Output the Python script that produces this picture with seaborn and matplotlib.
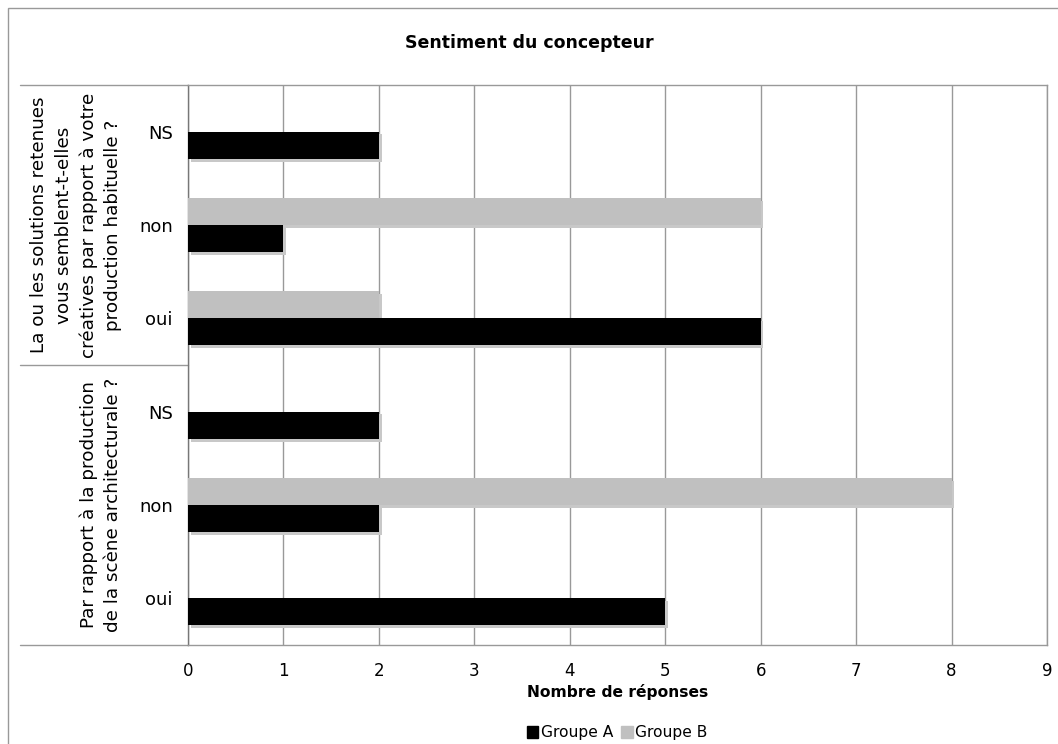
import matplotlib
matplotlib.use("Agg")
import matplotlib.pyplot as plt
import matplotlib.patheffects as pe
from matplotlib.patches import Patch, Rectangle
from matplotlib.lines import Line2D
import pandas as pd
import seaborn as sns

# data
questions = [
    "La ou les solutions retenues\nvous semblent-t-elles\ncréatives par rapport à votre\nproduction habituelle ?",
    "Par rapport à la production\nde la scène architecturale ?",
]
answers = ["NS", "non", "oui"]
groupe_a = [2, 1, 6, 2, 2, 5]
groupe_b = [0, 6, 2, 0, 8, 0]

# one unique id per row (labels repeat in both questions)
cat_ids = [f"q{q}-{a}" for q in range(len(questions)) for a in answers]
tick_labels = answers * len(questions)

df = pd.DataFrame({
    "cat": cat_ids * 2,
    "groupe": ["Groupe A"] * len(cat_ids) + ["Groupe B"] * len(cat_ids),
    "n": groupe_a + groupe_b,
})

sns.set_style("white")
plt.rcParams["font.family"] = ["DejaVu Sans"]
plt.rcParams["text.color"] = "black"
plt.rcParams["axes.labelcolor"] = "black"
plt.rcParams["xtick.labelcolor"] = "black"
plt.rcParams["ytick.labelcolor"] = "black"

fig = plt.figure(figsize=(10.58, 7.44), dpi=100)
ax = fig.add_axes([188 / 1058, 1 - 645 / 744, (1047 - 188) / 1058, (645 - 85) / 744])

colors = {"Groupe A": "#000000", "Groupe B": "#c0c0c0"}
sns.barplot(data=df, y="cat", x="n", hue="groupe", order=cat_ids,
            hue_order=["Groupe B", "Groupe A"], palette=colors,
            width=0.58, saturation=1, errorbar=None, legend=False,
            linewidth=0, orient="h", ax=ax)

# little drop shadow like the original spreadsheet chart
for p in ax.patches:
    p.set_path_effects([pe.SimplePatchShadow(offset=(2, -2), shadow_rgbFace="#c8c8c8", alpha=1),
                        pe.Normal()])
    p.set_zorder(3)

ax.set_xlim(0, 9)
ax.set_ylim(len(cat_ids) - 0.5, -0.5)
ax.set_xticks(range(10))
ax.grid(axis="x", color="#999999", linewidth=1)
ax.set_axisbelow(True)
for s in ax.spines.values():
    s.set_color("#999999")
    s.set_linewidth(1)
ax.spines["left"].set_color("#777777")

ax.set_yticks(range(len(cat_ids)))
ax.set_yticklabels(tick_labels, fontsize=13)
ax.tick_params(axis="y", which="major", length=0, pad=11)
ax.set_yticks([0.5, 1.5, 3.5, 4.5], minor=True)
ax.tick_params(axis="y", which="minor", length=38, color="#999999", width=1)
ax.tick_params(axis="x", length=5, color="#999999", width=1, labelsize=12, pad=7)

ax.set_ylabel("")
ax.set_xlabel("Nombre de réponses", fontsize=11.2, fontweight="bold", labelpad=3)

# group separators and question labels
tr = ax.get_yaxis_transform()
for y in [-0.5, 2.5, 5.5]:
    ax.add_line(Line2D([-168 / 859, 0], [y, y], transform=tr, color="#999999",
                       linewidth=1, clip_on=False))
for i, q in enumerate(questions):
    ax.text(-66 / 859, i * 3 + 1, q, transform=tr, rotation=90, ha="right",
            va="center", multialignment="center", fontsize=13.2, linespacing=1.45)

fig.suptitle("Sentiment du concepteur", x=0.5, y=1 - 43 / 744, va="center",
             fontsize=12.5, fontweight="bold")

handles = [Patch(color=colors["Groupe A"], label="Groupe A"),
           Patch(color=colors["Groupe B"], label="Groupe B")]
fig.legend(handles=handles, loc="center", bbox_to_anchor=(617 / 1058, 1 - 733 / 744),
           ncol=2, frameon=False, fontsize=11.2, handlelength=0.75, handleheight=0.75,
           handletextpad=0.15, columnspacing=0.5, borderpad=0)

# outer frame of the chart object
fig.patches.append(Rectangle((8 / 1058, -0.01), 1.0, 1 - 8 / 744 + 0.01,
                             transform=fig.transFigure, fill=False,
                             edgecolor="#999999", linewidth=1))

fig.savefig("out.png", dpi=100)
